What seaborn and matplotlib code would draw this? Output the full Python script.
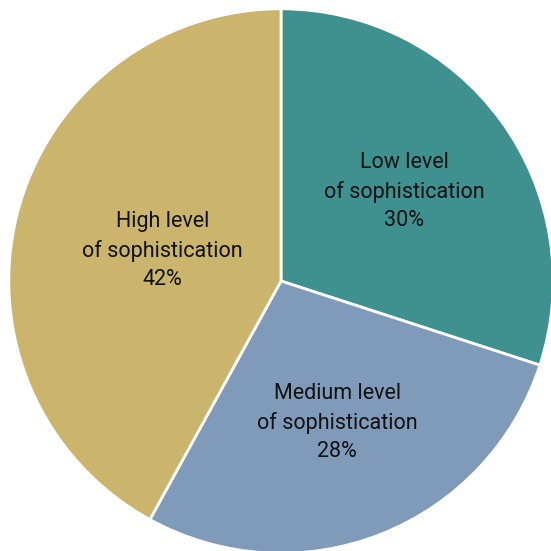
import numpy as np
import matplotlib.pyplot as plt
import seaborn as sns

sns.set_theme(style="white")
plt.rcParams['font.family'] = ['Roboto', 'DejaVu Sans']

categories = ["Low level\nof sophistication", "Medium level\nof sophistication", "High level\nof sophistication"]
shares = [30, 28, 42]
colors = ["#3F9190", "#809BB9", "#CBB46B"]
label_dist = [0.56, 0.56, 0.45]

fig = plt.figure(figsize=(5.51, 5.51), dpi=100)
ax = fig.add_axes([0.016, -0.004, 0.988, 0.988])

wedges, _ = ax.pie(shares, colors=colors, startangle=90, counterclock=False,
                   wedgeprops=dict(edgecolor="white", linewidth=2))
ax.set_xlim(-1, 1)
ax.set_ylim(-1, 1)
ax.set_aspect("equal")

for w, cat, val, d in zip(wedges, categories, shares, label_dist):
    mid = np.deg2rad((w.theta1 + w.theta2) / 2)
    ax.text(d * np.cos(mid), d * np.sin(mid), f"{cat}\n{val}%",
            ha="center", va="center", fontsize=15.5, color="#111111",
            linespacing=1.45)

ax.axis("off")
fig.savefig("out.png", dpi=100)
